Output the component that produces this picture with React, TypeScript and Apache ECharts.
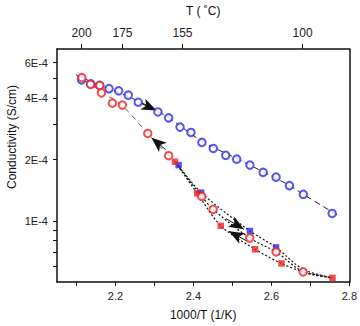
import React, { useEffect, useRef } from "react";
import * as echarts from "echarts";

// x = 1000/T (1/K), y = conductivity (S/cm)
const blueCircleX = [2.113, 2.1367, 2.1597, 2.1834, 2.2082, 2.2329, 2.2584, 2.3089, 2.3365, 2.3656, 2.3936, 2.4217, 2.451, 2.4829, 2.511, 2.5449, 2.5788, 2.612, 2.6462, 2.6819, 2.7559];
const blueCircleY = [4.93e-4, 4.72e-4, 4.64e-4, 4.47e-4, 4.36e-4, 4.15e-4, 3.83e-4, 3.43e-4, 3.21e-4, 2.89e-4, 2.72e-4, 2.43e-4, 2.27e-4, 2.1e-4, 2.01e-4, 1.88e-4, 1.73e-4, 1.64e-4, 1.49e-4, 1.35e-4, 1.087e-4];

const redCircleX = [2.1138, 2.136, 2.1597, 2.164, 2.1921, 2.2176, 2.2829, 2.3365, 2.4212, 2.4505, 2.5444, 2.612, 2.6814];
const redCircleY = [5.06e-4, 4.69e-4, 4.63e-4, 4.26e-4, 3.79e-4, 3.71e-4, 2.69e-4, 2.09e-4, 1.317e-4, 1.138e-4, 8.22e-5, 7.03e-5, 5.61e-5];

const redSquareX = [2.3528, 2.4097, 2.4702, 2.5582, 2.6258, 2.7566];
const redSquareY = [1.952e-4, 1.366e-4, 9.45e-5, 7.24e-5, 6.17e-5, 5.24e-5];

const blueSquareX = [2.362, 2.4199, 2.5449, 2.612];
const blueSquareY = [1.88e-4, 1.376e-4, 8.91e-5, 7.4e-5];

// guide lines
const blueFitX = [2.1003, 2.1597, 2.2584, 2.3357, 2.4217, 2.5117, 2.5788, 2.6462, 2.6819, 2.7719];
const blueFitY = [5.18e-4, 4.65e-4, 3.88e-4, 3.215e-4, 2.466e-4, 2.021e-4, 1.742e-4, 1.492e-4, 1.35e-4, 1.06e-4];

const redFitX = [2.0985, 2.164, 2.2176, 2.2829, 2.3365, 2.3536];
const redFitY = [5.25e-4, 4.31e-4, 3.67e-4, 2.69e-4, 2.09e-4, 1.945e-4];

const lowerAX = [2.3561, 2.4199, 2.5449, 2.612, 2.6814, 2.7566];
const lowerAY = [1.924e-4, 1.376e-4, 8.91e-5, 7.4e-5, 5.77e-5, 5.24e-5];
const lowerBX = [2.3536, 2.4212, 2.4505, 2.5444, 2.612, 2.6814, 2.7566];
const lowerBY = [1.945e-4, 1.317e-4, 1.138e-4, 8.22e-5, 7.03e-5, 5.61e-5, 5.24e-5];
const lowerCX = [2.3528, 2.4097, 2.4702, 2.5582, 2.6258, 2.6814, 2.7566];
const lowerCY = [1.952e-4, 1.366e-4, 9.45e-5, 7.24e-5, 6.17e-5, 5.61e-5, 5.24e-5];

// arrows: [tailX, tailY, tipX, tipY]
const arrows = [
  [2.2617, 3.815e-4, 2.3051, 3.49e-4],
  [2.328, 2.245e-4, 2.2923, 2.563e-4],
  [2.4837, 1.025e-4, 2.5296, 9.08e-5],
  [2.5372, 7.95e-5, 2.4913, 8.88e-5],
];

// axes
const xMin = 2.05;
const xMax = 2.8;
const xLabelValues = [2.2, 2.4, 2.6, 2.8];
const xTickValues = [2.1, 2.2, 2.3, 2.4, 2.5, 2.6, 2.7, 2.8];
const topTickPositions = [2.113, 2.218, 2.372, 2.68];
const topTickLabels = ["200", "175", "155", "100"];
const yMin = 5e-5;
const yMax = 7e-4;
const yLabelValues = [1e-4, 2e-4, 4e-4, 6e-4];
const yLabelTexts = ["1E-4", "2E-4", "4E-4", "6E-4"];
const yTickValues = [6e-5, 7e-5, 8e-5, 9e-5, 1e-4, 2e-4, 3e-4, 4e-4, 5e-4, 6e-4];

const FONT = "Liberation Sans, Arial, sans-serif";
const BLUE = "#2b2bf0";
const RED = "#f02020";

const pts = (xs: number[], ys: number[]) => xs.map((x, i) => [x, Math.log10(ys[i])]);
const nearestLabel = (v: number, vals: number[], labels: string[]) => {
  let best = 0;
  for (let i = 1; i < vals.length; i++) if (Math.abs(vals[i] - v) < Math.abs(vals[best] - v)) best = i;
  return labels[best];
};

export default function App() {
  const ref = useRef<HTMLDivElement>(null);
  useEffect(() => {
    if (!ref.current) return;
    const chart = echarts.init(ref.current, undefined, { renderer: "svg" });
    const axisLine = { show: true, lineStyle: { color: "#111", width: 1.5 } };
    const labelStyle = { color: "#222", fontSize: 11, fontFamily: FONT };
    const logLabels = yLabelValues.map((v) => Math.log10(v));
    const dotted = (xs: number[], ys: number[]) => ({
      type: "line",
      data: pts(xs, ys),
      smooth: 0.3,
      symbol: "none",
      lineStyle: { color: "#111", width: 1.2, type: [2, 2] },
      silent: true,
      z: 2,
    });
    chart.setOption({
      animation: false,
      backgroundColor: "#fff",
      grid: { left: 57, right: 9, top: 46, bottom: 41 },
      xAxis: [
        {
          type: "value",
          position: "bottom",
          min: xMin,
          max: xMax,
          name: "1000/T (1/K)",
          nameLocation: "middle",
          nameGap: 27,
          nameTextStyle: { color: "#111", fontSize: 12, fontFamily: FONT },
          axisLine,
          axisTick: { show: true, inside: false, length: 4, lineStyle: { color: "#111" }, customValues: xTickValues },
          axisLabel: { ...labelStyle, margin: 8, customValues: xLabelValues, formatter: (v: number) => v.toFixed(1) },
          splitLine: { show: false },
        },
        {
          type: "value",
          position: "top",
          min: xMin,
          max: xMax,
          name: "T ( ˚C)",
          nameLocation: "middle",
          nameGap: 32,
          nameTextStyle: { color: "#111", fontSize: 12, fontFamily: FONT },
          axisLine,
          axisTick: { show: true, inside: false, length: 5, lineStyle: { color: "#111" }, customValues: topTickPositions },
          axisLabel: {
            ...labelStyle,
            fontSize: 12,
            margin: 10,
            customValues: topTickPositions,
            formatter: (v: number) => nearestLabel(v, topTickPositions, topTickLabels),
          },
          splitLine: { show: false },
        },
      ],
      yAxis: [
        {
          type: "value",
          position: "left",
          min: Math.log10(yMin),
          max: Math.log10(yMax),
          axisLine,
          axisTick: {
            show: true,
            inside: false,
            length: 4,
            lineStyle: { color: "#111" },
            customValues: yTickValues.map((v) => Math.log10(v)),
          },
          axisLabel: {
            ...labelStyle,
            margin: 9,
            customValues: logLabels,
            formatter: (v: number) => nearestLabel(v, logLabels, yLabelTexts),
          },
          splitLine: { show: false },
        },
        {
          type: "value",
          position: "right",
          min: Math.log10(yMin),
          max: Math.log10(yMax),
          axisLine,
          axisTick: { show: false },
          axisLabel: { show: false },
          splitLine: { show: false },
        },
      ],
      graphic: [
        {
          type: "text",
          x: 12,
          y: 137,
          rotation: Math.PI / 2,
          style: {
            text: "Conductivity (S/cm)",
            fill: "#111",
            fontSize: 12,
            fontFamily: FONT,
            align: "center",
            verticalAlign: "middle",
          },
        },
      ],
      series: [
        {
          type: "line",
          data: pts(blueFitX, blueFitY),
          smooth: 0.4,
          symbol: "none",
          lineStyle: { color: "#222", width: 1, type: [6, 4] },
          silent: true,
          z: 2,
        },
        {
          type: "line",
          data: pts(redFitX, redFitY),
          smooth: 0.4,
          symbol: "none",
          lineStyle: { color: "#444", width: 0.9, type: [5, 5] },
          silent: true,
          z: 2,
        },
        dotted(lowerAX, lowerAY),
        dotted(lowerBX, lowerBY),
        dotted(lowerCX, lowerCY),
        {
          type: "line",
          data: [],
          silent: true,
          markLine: {
            silent: true,
            symbol: ["none", "arrow"],
            symbolSize: [9, 15],
            label: { show: false },
            lineStyle: { color: "#111", width: 1, type: "solid" },
            data: arrows.map((a) => [
              { coord: [a[0], Math.log10(a[1])] },
              { coord: [a[2], Math.log10(a[3])] },
            ]),
          },
          z: 4,
        },
        {
          type: "scatter",
          data: pts(blueCircleX, blueCircleY),
          symbol: "emptyCircle",
          symbolSize: 7.5,
          itemStyle: { color: BLUE, borderColor: BLUE, borderWidth: 1 },
          z: 5,
        },
        {
          type: "scatter",
          data: pts(redCircleX, redCircleY),
          symbol: "emptyCircle",
          symbolSize: 7.5,
          itemStyle: { color: RED, borderColor: RED, borderWidth: 1 },
          z: 6,
        },
        {
          type: "scatter",
          data: pts(blueSquareX, blueSquareY),
          symbol: "rect",
          symbolSize: 6.5,
          itemStyle: { color: BLUE },
          z: 5,
        },
        {
          type: "scatter",
          data: pts(redSquareX, redSquareY),
          symbol: "rect",
          symbolSize: 6.5,
          itemStyle: { color: RED },
          z: 5,
        },
      ],
    });
    return () => chart.dispose();
  }, []);
  return <div ref={ref} style={{ width: 360, height: 326, position: "absolute", left: 0, top: 0 }} />;
}
